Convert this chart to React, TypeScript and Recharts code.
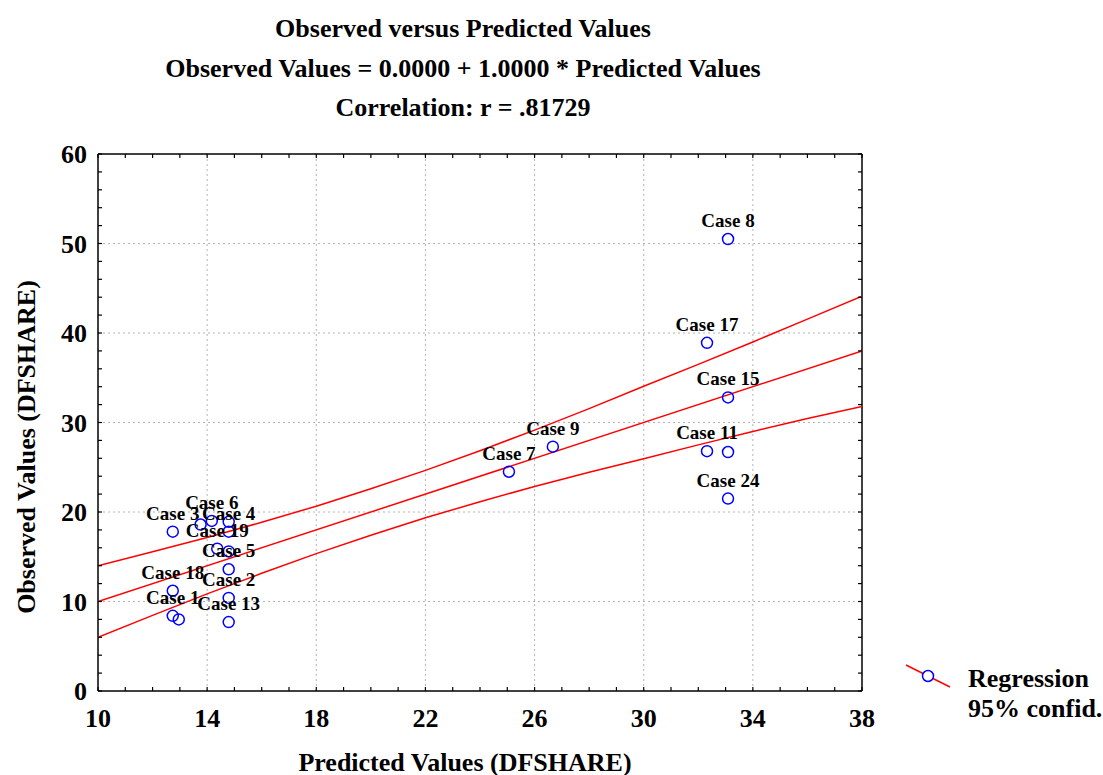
import React from 'react';
import { ScatterChart, Scatter, XAxis, YAxis, ReferenceLine } from 'recharts';

// ---- data ----
const caseLabels = ['Case 3', '', 'Case 6', '', 'Case 4', 'Case 19', '', 'Case 5', 'Case 18', 'Case 2', 'Case 1', '', 'Case 13', 'Case 7', 'Case 9', 'Case 17', 'Case 11', 'Case 8', 'Case 15', '', 'Case 24'];
const predicted = [12.74, 13.76, 14.17, 14.79, 14.79, 14.37, 14.79, 14.79, 12.74, 14.79, 12.74, 12.96, 14.79, 25.06, 26.67, 32.32, 32.32, 33.09, 33.09, 33.09, 33.09];
const observed = [17.8, 18.6, 19.0, 18.9, 17.8, 15.9, 15.6, 13.6, 11.2, 10.4, 8.4, 8.0, 7.7, 24.5, 27.3, 38.9, 26.8, 50.5, 32.8, 26.7, 21.5];

const fitX = [10, 38];
const fitY = [10, 38];
const bandX = [10, 12, 14, 16, 18, 20, 22, 24, 26, 28, 30, 32, 34, 36, 38];
const bandUpper = [14.0, 15.55, 17.15, 18.85, 20.65, 22.6, 24.65, 26.85, 29.15, 31.55, 34.05, 36.5, 39.0, 41.55, 44.1];
const bandLower = [6.0, 8.45, 10.85, 13.15, 15.35, 17.4, 19.35, 21.15, 22.85, 24.45, 25.95, 27.5, 29.0, 30.45, 31.8];

const xAllTicks = [10, 11, 12, 13, 14, 15, 16, 17, 18, 19, 20, 21, 22, 23, 24, 25, 26, 27, 28, 29, 30, 31, 32, 33, 34, 35, 36, 37, 38];
const xLabelTicks = [10, 14, 18, 22, 26, 30, 34, 38];
const yAllTicks = [0, 2, 4, 6, 8, 10, 12, 14, 16, 18, 20, 22, 24, 26, 28, 30, 32, 34, 36, 38, 40, 42, 44, 46, 48, 50, 52, 54, 56, 58, 60];
const yLabelTicks = [0, 10, 20, 30, 40, 50, 60];
const xGrid = [14, 18, 22, 26, 30, 34];
const yGrid = [10, 20, 30, 40, 50];

const titleLines = ['Observed versus Predicted Values', 'Observed Values = 0.0000 + 1.0000 * Predicted Values', 'Correlation: r = .81729'];
const xTitle = 'Predicted Values (DFSHARE)';
const yTitle = 'Observed Values (DFSHARE)';
const legendLabels = ['Regression', '95% confid.'];

// ---- build series ----
const points = predicted.map((x, i) => ({ x, y: observed[i], label: caseLabels[i] }));
const fitData = fitX.map((x, i) => ({ x, y: fitY[i] }));
const upperData = bandX.map((x, i) => ({ x, y: bandUpper[i] }));
const lowerData = bandX.map((x, i) => ({ x, y: bandLower[i] }));

const FONT = "'Times New Roman', 'Liberation Serif', serif";
const RED = '#ff0000';
const BLUE = '#0000ff';

const BottomTick = (props: any) => {
  const { x, y, payload } = props;
  const v = payload.value;
  return (
    <g>
      <line x1={x} x2={x} y1={y} y2={y - 4} stroke="#000" strokeWidth={1.2} />
      {xLabelTicks.includes(v) && (
        <text x={x} y={y + 36} textAnchor="middle" fontFamily={FONT} fontWeight="bold" fontSize={26} fill="#000">{v}</text>
      )}
    </g>
  );
};
const TopTick = (props: any) => {
  const { x, y } = props;
  return <line x1={x} x2={x} y1={y} y2={y + 4} stroke="#000" strokeWidth={1.2} />;
};
const LeftTick = (props: any) => {
  const { x, y, payload } = props;
  const v = payload.value;
  return (
    <g>
      <line x1={x} x2={x + 4} y1={y} y2={y} stroke="#000" strokeWidth={1.2} />
      {yLabelTicks.includes(v) && (
        <text x={x - 11} y={y + 9} textAnchor="end" fontFamily={FONT} fontWeight="bold" fontSize={26} fill="#000">{v}</text>
      )}
    </g>
  );
};
const RightTick = (props: any) => {
  const { x, y } = props;
  return <line x1={x} x2={x - 4} y1={y} y2={y} stroke="#000" strokeWidth={1.2} />;
};

const PointShape = (props: any) => {
  const { cx, cy, payload } = props;
  return (
    <g>
      <circle cx={cx} cy={cy} r={5.5} fill="none" stroke={BLUE} strokeWidth={1.5} />
      {payload.label ? (
        <text x={cx} y={cy - 12} textAnchor="middle" fontFamily={FONT} fontWeight="bold" fontSize={19} fill="#000">{payload.label}</text>
      ) : null}
    </g>
  );
};
const NoShape = () => <g />;

const axisLine = { stroke: '#000', strokeWidth: 1.5 };
const gridStyle = { stroke: '#b4b4b4', strokeWidth: 1, strokeDasharray: '2 3' };

export default function App() {
  return (
    <div style={{ position: 'absolute', left: 0, top: 0, width: 1103, height: 775, background: '#fff', fontFamily: FONT }}>
      <div style={{ position: 'absolute', left: 0, top: 0 }}>
        <ScatterChart width={1103} height={775} margin={{ top: 153, right: 240, bottom: 83, left: 97 }}>
          <XAxis xAxisId={0} type="number" dataKey="x" domain={[10, 38]} ticks={xAllTicks} interval={0} orientation="bottom" height={1} tickSize={0} tickMargin={0} tickLine={false} axisLine={axisLine} tick={BottomTick} allowDataOverflow />
          <XAxis xAxisId="top" type="number" dataKey="x" domain={[10, 38]} ticks={xAllTicks} interval={0} orientation="top" height={1} tickSize={0} tickMargin={0} tickLine={false} axisLine={axisLine} tick={TopTick} allowDataOverflow />
          <YAxis yAxisId={0} type="number" dataKey="y" domain={[0, 60]} ticks={yAllTicks} interval={0} orientation="left" width={1} tickSize={0} tickMargin={0} tickLine={false} axisLine={axisLine} tick={LeftTick} allowDataOverflow />
          <YAxis yAxisId="right" type="number" dataKey="y" domain={[0, 60]} ticks={yAllTicks} interval={0} orientation="right" width={1} tickSize={0} tickMargin={0} tickLine={false} axisLine={axisLine} tick={RightTick} allowDataOverflow />
          {xGrid.map((v) => (
            <ReferenceLine key={'gx' + v} x={v} {...gridStyle} />
          ))}
          {yGrid.map((v) => (
            <ReferenceLine key={'gy' + v} y={v} {...gridStyle} />
          ))}
          <Scatter name="upper" data={upperData} line={{ stroke: RED, strokeWidth: 1.5 }} shape={NoShape} isAnimationActive={false} />
          <Scatter name="fit" data={fitData} line={{ stroke: RED, strokeWidth: 1.5 }} shape={NoShape} isAnimationActive={false} />
          <Scatter name="lower" data={lowerData} line={{ stroke: RED, strokeWidth: 1.5 }} shape={NoShape} isAnimationActive={false} />
          <Scatter name="cases" data={points} shape={PointShape} isAnimationActive={false} />
        </ScatterChart>
      </div>
      {titleLines.map((t, i) => (
        <div key={t} style={{ position: 'absolute', left: 0, width: 926, top: [14, 54, 93][i], lineHeight: '30px', textAlign: 'center', fontWeight: 'bold', fontSize: 26, color: '#000', whiteSpace: 'nowrap' }}>{t}</div>
      ))}
      <div style={{ position: 'absolute', left: 0, width: 930, top: 748, lineHeight: '30px', textAlign: 'center', fontWeight: 'bold', fontSize: 26, color: '#000', whiteSpace: 'nowrap' }}>{xTitle}</div>
      <div style={{ position: 'absolute', left: 27 - 200, width: 400, top: 447 - 15, height: 30, lineHeight: '30px', textAlign: 'center', fontWeight: 'bold', fontSize: 26, color: '#000', whiteSpace: 'nowrap', transform: 'rotate(-90deg)' }}>{yTitle}</div>
      <svg style={{ position: 'absolute', left: 900, top: 655 }} width={60} height={40}>
        <line x1={6} y1={10} x2={50} y2={32} stroke={RED} strokeWidth={1.5} />
        <circle cx={28} cy={21} r={5.5} fill="#fff" stroke={BLUE} strokeWidth={1.5} />
      </svg>
      {legendLabels.map((t, i) => (
        <div key={t} style={{ position: 'absolute', left: 968, top: 664 + i * 30, lineHeight: '30px', fontWeight: 'bold', fontSize: 26, color: '#000', whiteSpace: 'nowrap' }}>{t}</div>
      ))}
    </div>
  );
}
